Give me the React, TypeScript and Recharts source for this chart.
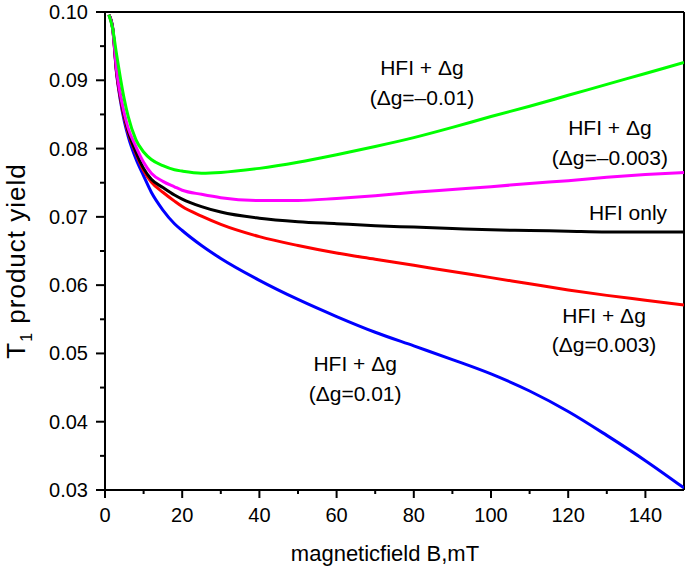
import React from "react";
import {
  LineChart,
  Line,
  XAxis,
  YAxis,
  ReferenceLine,
  ReferenceDot,
} from "recharts";

// magnetic field B, mT
const fieldB = [1, 2, 3, 4, 5, 6, 8, 10, 12, 15, 18, 20, 25, 30, 40, 50, 60, 70, 80, 90, 100, 110, 120, 130, 140, 150];

// T1 product yield for each case
const hfiOnly = [0.0996, 0.0977, 0.0913, 0.0876, 0.0848, 0.0826, 0.0795, 0.0771, 0.0755, 0.0743, 0.0732, 0.0726, 0.0715, 0.0707, 0.0698, 0.0693, 0.069, 0.0687, 0.0685, 0.0683, 0.0681, 0.068, 0.0679, 0.0678, 0.0678, 0.0678];
const dgPlus003 = [0.0996, 0.0975, 0.0911, 0.0873, 0.0845, 0.0823, 0.0793, 0.0768, 0.0751, 0.0736, 0.0723, 0.0715, 0.0701, 0.0689, 0.0671, 0.0658, 0.0647, 0.0638, 0.0629, 0.062, 0.0611, 0.0602, 0.0593, 0.0585, 0.0578, 0.0571];
const dgPlus01 = [0.0996, 0.0975, 0.091, 0.087, 0.084, 0.0818, 0.0785, 0.076, 0.0736, 0.071, 0.069, 0.068, 0.0658, 0.0639, 0.0607, 0.0579, 0.0554, 0.0531, 0.0511, 0.0491, 0.047, 0.0445, 0.0415, 0.038, 0.0343, 0.0303];
const dgMinus003 = [0.0996, 0.0975, 0.0915, 0.0878, 0.0851, 0.083, 0.0803, 0.078, 0.0764, 0.0752, 0.0744, 0.0739, 0.0733, 0.0728, 0.0724, 0.0724, 0.0727, 0.0731, 0.0736, 0.074, 0.0744, 0.0749, 0.0753, 0.0758, 0.0762, 0.0765];
const dgMinus01 = [0.0996, 0.0975, 0.0938, 0.0903, 0.0872, 0.0847, 0.0813, 0.0795, 0.0784, 0.0775, 0.0769, 0.0767, 0.0764, 0.0765, 0.0771, 0.078, 0.0791, 0.0803, 0.0816, 0.0831, 0.0847, 0.0862, 0.0878, 0.0894, 0.091, 0.0926];

const xTicks = [0, 10, 20, 30, 40, 50, 60, 70, 80, 90, 100, 110, 120, 130, 140];
const yTicks = [0.03, 0.035, 0.04, 0.045, 0.05, 0.055, 0.06, 0.065, 0.07, 0.075, 0.08, 0.085, 0.09, 0.095, 0.1];

// curve annotations (data coordinates)
const notes = [
  { B: 82.1, y: 0.0896, lines: ["HFI + \u0394g", "(\u0394g=\u20130.01)"] },
  { B: 130.8, y: 0.0808, lines: ["HFI + \u0394g", "(\u0394g=\u20130.003)"] },
  { B: 135.5, y: 0.0706, lines: ["HFI only"] },
  { B: 129.3, y: 0.0533, lines: ["HFI + \u0394g", "(\u0394g=0.003)"] },
  { B: 64.8, y: 0.0462, lines: ["HFI + \u0394g", "(\u0394g=0.01)"] },
];

const data = fieldB.map((B, i) => ({
  B,
  hfi: hfiOnly[i],
  p003: dgPlus003[i],
  p01: dgPlus01[i],
  m003: dgMinus003[i],
  m01: dgMinus01[i],
}));

const FONT = "'Liberation Sans', Arial, Helvetica, sans-serif";

const XTick = (props: any) => {
  const { x, y, payload } = props;
  const v = payload.value;
  const major = v % 20 === 0;
  return (
    <g>
      <line x1={x} x2={x} y1={y} y2={y + (major ? 8 : 4)} stroke="#000" strokeWidth={2} />
      {major && (
        <text x={x} y={y + 32} textAnchor="middle" fontSize={20} fill="#000" fontFamily={FONT}>
          {v}
        </text>
      )}
    </g>
  );
};

const YTick = (props: any) => {
  const { x, y, payload } = props;
  const v = payload.value;
  const major = Math.round(v * 1000) % 10 === 0;
  return (
    <g>
      <line x1={x - (major ? 9 : 5)} x2={x} y1={y} y2={y} stroke="#000" strokeWidth={2} />
      {major && (
        <text x={x - 17} y={y + 7} textAnchor="end" fontSize={20} fill="#000" fontFamily={FONT}>
          {v.toFixed(2)}
        </text>
      )}
    </g>
  );
};

const XTitle = (props: any) => {
  const vb = props.viewBox;
  return (
    <text x={vb.x + 280} y={vb.y + 71} textAnchor="middle" fontSize={22} fill="#000" fontFamily={FONT}>
      magneticfield B,mT
    </text>
  );
};

const YTitle = (props: any) => {
  const vb = props.viewBox;
  const cx = 25;
  const cy = vb.y + 249;
  return (
    <text
      x={cx}
      y={cy}
      transform={`rotate(-90 ${cx} ${cy})`}
      textAnchor="middle"
      fontSize={26}
      letterSpacing={1}
      fill="#000"
      fontFamily={FONT}
    >
      T
      <tspan fontSize={16} dy={7}>1</tspan>
      <tspan dy={-7}> product yield</tspan>
    </text>
  );
};

const NoteLabel = (lines: string[]) => (props: any) => {
  const vb = props.viewBox;
  const cx = vb.x + (vb.width || 0) / 2;
  const cy = vb.y + (vb.height || 0) / 2;
  const first = lines.length > 1 ? cy - 8 : cy + 7;
  return (
    <g>
      {lines.map((t, i) => (
        <text
          key={i}
          x={cx}
          y={first + i * 29.5}
          textAnchor="middle"
          fontSize={21}
          fill="#000"
          fontFamily={FONT}
        >
          {t}
        </text>
      ))}
    </g>
  );
};

export default function App() {
  return (
    <div style={{ position: "absolute", left: 0, top: 0, width: 685, height: 569, background: "#fff" }}>
      <LineChart
        width={685}
        height={569}
        data={data}
        margin={{ top: 12, right: 1, bottom: 0, left: 0 }}
        style={{ fontFamily: FONT }}
      >
        <XAxis
          dataKey="B"
          type="number"
          domain={[0, 150]}
          ticks={xTicks}
          interval={0}
          allowDataOverflow
          height={79}
          tickSize={0}
          tickMargin={0}
          tickLine={false}
          tick={<XTick />}
          axisLine={{ stroke: "#000", strokeWidth: 2 }}
          label={<XTitle />}
        />
        <YAxis
          type="number"
          domain={[0.03, 0.1]}
          ticks={yTicks}
          interval={0}
          allowDataOverflow
          width={105}
          tickSize={0}
          tickMargin={0}
          tickLine={false}
          tick={<YTick />}
          axisLine={{ stroke: "#000", strokeWidth: 2 }}
          label={<YTitle />}
        />
        <ReferenceLine y={0.1} stroke="#000" strokeWidth={2} />
        <ReferenceLine x={150} stroke="#000" strokeWidth={2} />
        <Line type="monotone" dataKey="p01" stroke="#0000ff" strokeWidth={3} dot={false} isAnimationActive={false} />
        <Line type="monotone" dataKey="p003" stroke="#ff0000" strokeWidth={3} dot={false} isAnimationActive={false} />
        <Line type="monotone" dataKey="hfi" stroke="#000000" strokeWidth={3} dot={false} isAnimationActive={false} />
        <Line type="monotone" dataKey="m003" stroke="#ff00ff" strokeWidth={3} dot={false} isAnimationActive={false} />
        <Line type="monotone" dataKey="m01" stroke="#00ff00" strokeWidth={3} dot={false} isAnimationActive={false} />
        {notes.map((n, i) => (
          <ReferenceDot
            key={i}
            x={n.B}
            y={n.y}
            r={0}
            fill="none"
            stroke="none"
            label={NoteLabel(n.lines)}
          />
        ))}
      </LineChart>
    </div>
  );
}
